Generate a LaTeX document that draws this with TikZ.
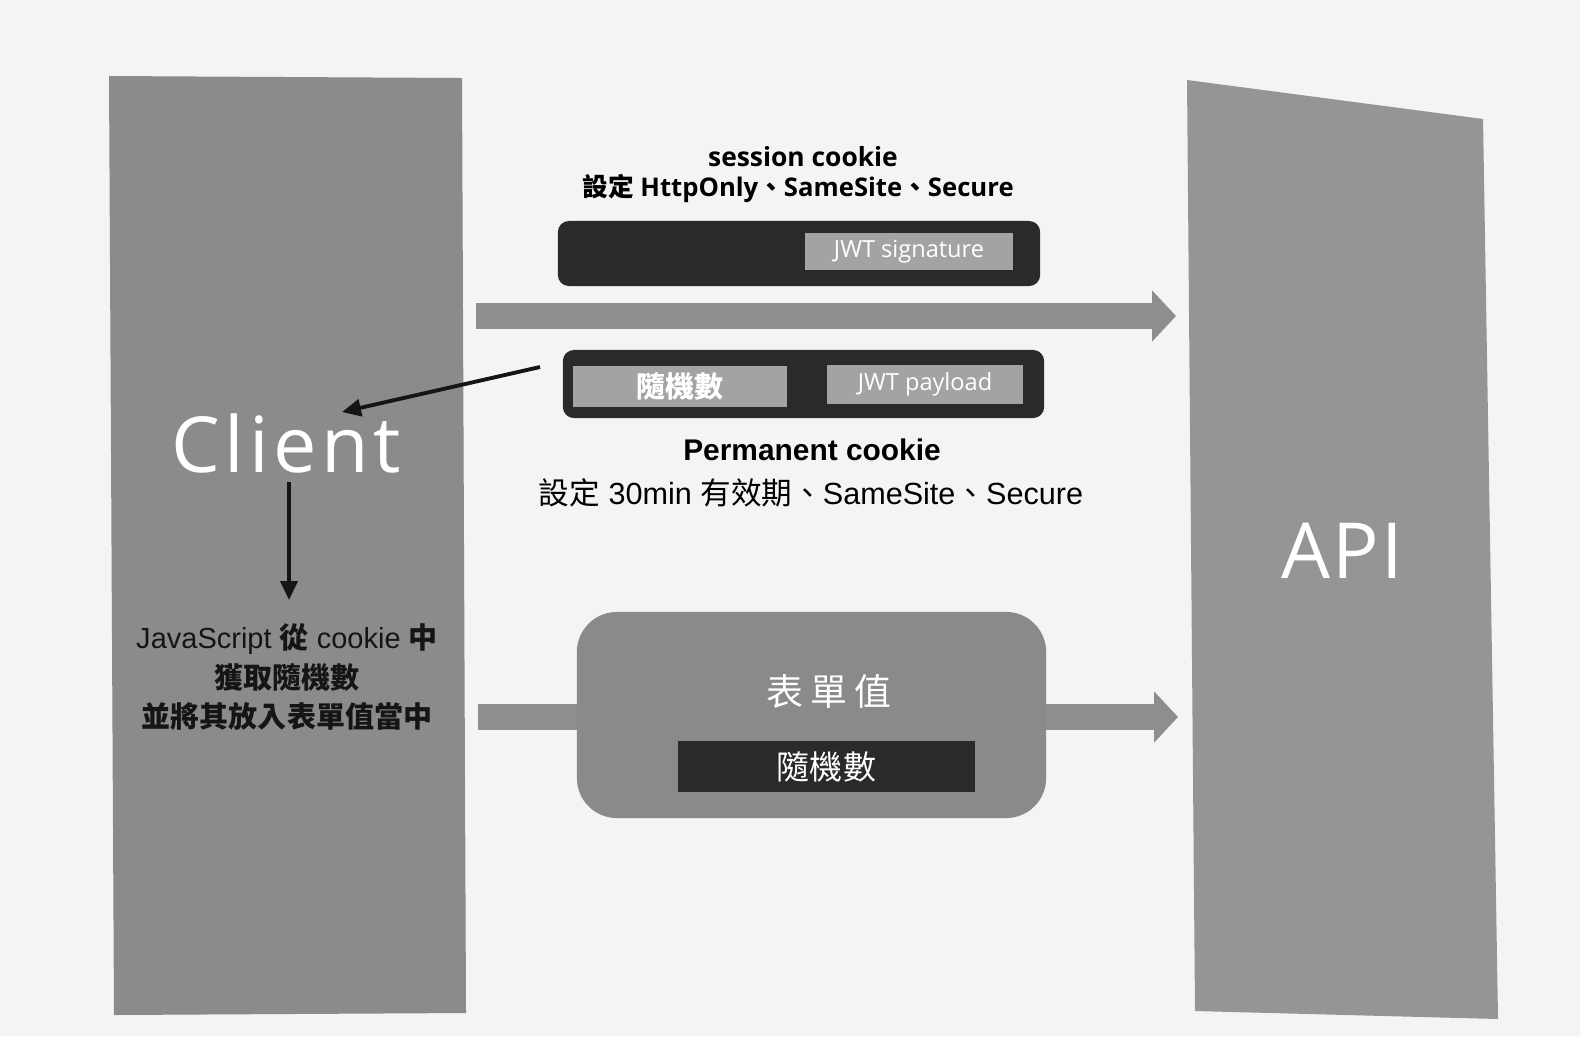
\documentclass[tikz,border=0pt]{standalone}
\usepackage{fontspec}
\setmainfont{Liberation Sans}
\newfontfamily\cjk{Noto Sans CJK TC}
\newfontfamily\ui{Open Sans}
\usetikzlibrary{arrows.meta}

\definecolor{pagebg}{HTML}{F4F4F3}
\definecolor{blockgray}{HTML}{8B8C8A}
\definecolor{apigray}{HTML}{949693}
\definecolor{bardark}{HTML}{2A2A2A}
\definecolor{chipgray}{HTML}{A3A4A2}
\definecolor{arrowgray}{HTML}{8D8F8C}
\definecolor{formgray}{HTML}{8A8B89}
\definecolor{inkdark}{HTML}{151515}

\begin{document}
\begin{tikzpicture}[x=0.01cm, y=-0.01cm,
  cookiebar/.style={fill=bardark, rounded corners=0.11cm, inner sep=0pt, minimum height=#1},
  chip/.style={fill=chipgray, inner sep=0pt, text=white},
  bigarrow/.style={draw=arrowgray, line width=0.26cm, -{Triangle[width=0.5cm, length=0.24cm]}},
  thinarrow/.style={draw=inkdark, line width=1.1pt, -{Triangle[width=0.17cm, length=0.19cm]}},
  caption/.style={inner sep=0pt, text=black},
  bigword/.style={inner sep=0pt, text=white},
]
% page
\fill[pagebg] (0,0) rectangle (1580,1036);
\useasboundingbox (0,0) rectangle (1580,1036);

% client and API columns
\coordinate (cl-nw) at (109,76);
\coordinate (cl-ne) at (462,78);
\coordinate (cl-se) at (466,1013);
\coordinate (cl-sw) at (114,1015);
\fill[blockgray] (cl-nw) -- (cl-ne) -- (cl-se) -- (cl-sw) -- cycle;

\coordinate (api-nw) at (1187,80);
\coordinate (api-ne) at (1483,119);
\coordinate (api-se) at (1498,1019);
\coordinate (api-sw) at (1195,1011);
\fill[apigray] (api-nw) -- (api-ne) -- (api-se) -- (api-sw) -- cycle;

% session cookie
\node[caption, font=\ui\bfseries\fontsize{7.5pt}{9pt}\selectfont] (sesstitle) at (803,157) {session cookie};
\node[caption, font=\ui\bfseries\fontsize{7.3pt}{9pt}\selectfont] (sessflags) at (798,188)
  {{\cjk 設定} HttpOnly{\cjk 、}SameSite{\cjk 、}Secure};
\node[cookiebar=0.65cm, minimum width=4.82cm] (sessbar) at (799,253.5) {};
\node[chip, minimum width=2.08cm, minimum height=0.37cm, font=\ui\fontsize{6.7pt}{8pt}\selectfont] (sig) at (909,251.5) {JWT signature};

% requests towards the API
\coordinate (req1start) at (476,316);
\coordinate (req1end) at (1176,316);
\draw[bigarrow] (req1start) -- (req1end);

% permanent cookie
\node[cookiebar=0.68cm, minimum width=4.81cm] (permbar) at (803.5,384) {};
\node[chip, minimum width=2.14cm, minimum height=0.41cm, font=\cjk\bfseries\fontsize{8.25pt}{10pt}\selectfont] (nonce) at (680,386.5) {隨機數};
\node[chip, minimum width=1.96cm, minimum height=0.39cm, font=\ui\fontsize{6.7pt}{8pt}\selectfont] (payload) at (925,384.5) {JWT payload};
\node[caption, font=\bfseries\fontsize{8.5pt}{10pt}\selectfont] (permtitle) at (812,450) {Permanent cookie};
\node[caption, font=\fontsize{8.7pt}{10pt}\selectfont] (permflags) at (811,493)
  {{\cjk 設定} 30min {\cjk 有效期、}SameSite{\cjk 、}Secure};

% client side
\node[bigword, font=\ui\fontsize{22pt}{26pt}\selectfont] (client) at (286,443)
  {C\kern1.3pt l\kern1.3pt i\kern1.3pt e\kern1.3pt n\kern1.3pt t};
\node[inner sep=0pt, align=center, text=inkdark, font=\fontsize{8.25pt}{11.1pt}\selectfont] (js) at (287,677)
  {JavaScript {\cjk\bfseries 從} cookie {\cjk\bfseries 中}\\{\cjk\bfseries 獲取隨機數}\\{\cjk\bfseries 並將其放入表單值當中}};

\coordinate (nonceout) at (540,367);
\coordinate (noncein) at (342,412);
\draw[thinarrow] (nonceout) -- (noncein);
\coordinate (readstart) at (289,482);
\coordinate (readend) at (289,600);
\draw[thinarrow] (readstart) -- (readend);

% form submission
\coordinate (req2start) at (478,717);
\coordinate (req2end) at (1178,717);
\draw[bigarrow] (req2start) -- (req2end);
\node[fill=formgray, rounded corners=0.4cm, minimum width=4.69cm, minimum height=2.06cm, inner sep=0pt] (form) at (811.5,715) {};
\node[bigword, font=\cjk\fontsize{10.5pt}{12pt}\selectfont] (formlabel) at (829,691) {表\kern2pt 單\kern2pt 值};
\node[fill=bardark, minimum width=2.97cm, minimum height=0.51cm, inner sep=0pt, text=white, font=\cjk\fontsize{9.4pt}{11pt}\selectfont] (formnonce) at (826.5,766.5) {隨機數};

% API label
\node[bigword, font=\ui\fontsize{22pt}{26pt}\selectfont] (api) at (1342,551) {A\kern0.6pt P\kern0.6pt I};
\end{tikzpicture}
\end{document}
